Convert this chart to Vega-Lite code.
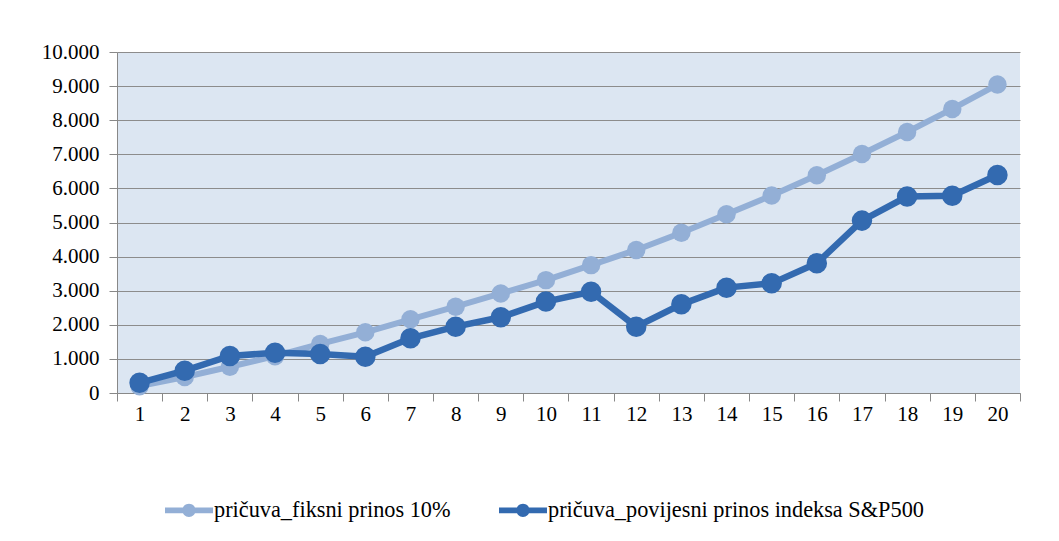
{
  "$schema": "https://vega.github.io/schema/vega-lite/v6.json",
  "autosize": "none",
  "width": 903,
  "height": 341,
  "padding": {"left": 117, "top": 52, "right": 39, "bottom": 148},
  "background": "white",
  "config": {
    "font": "Liberation Serif",
    "view": {"fill": "#DCE6F2", "stroke": null},
    "axis": {"labelFont": "Liberation Serif", "labelFontSize": 21, "labelColor": "#000000", "domainColor": "#888888", "tickColor": "#888888", "tickSize": 8, "title": null},
    "legend": {"labelFont": "Liberation Serif"}
  },
  "data": {"values": [
    {"t": 1, "s": "pričuva_fiksni prinos 10%", "v": 200},
    {"t": 2, "s": "pričuva_fiksni prinos 10%", "v": 470},
    {"t": 3, "s": "pričuva_fiksni prinos 10%", "v": 770},
    {"t": 4, "s": "pričuva_fiksni prinos 10%", "v": 1080},
    {"t": 5, "s": "pričuva_fiksni prinos 10%", "v": 1440},
    {"t": 6, "s": "pričuva_fiksni prinos 10%", "v": 1780},
    {"t": 7, "s": "pričuva_fiksni prinos 10%", "v": 2160},
    {"t": 8, "s": "pričuva_fiksni prinos 10%", "v": 2530},
    {"t": 9, "s": "pričuva_fiksni prinos 10%", "v": 2920},
    {"t": 10, "s": "pričuva_fiksni prinos 10%", "v": 3310},
    {"t": 11, "s": "pričuva_fiksni prinos 10%", "v": 3750},
    {"t": 12, "s": "pričuva_fiksni prinos 10%", "v": 4195},
    {"t": 13, "s": "pričuva_fiksni prinos 10%", "v": 4700},
    {"t": 14, "s": "pričuva_fiksni prinos 10%", "v": 5240},
    {"t": 15, "s": "pričuva_fiksni prinos 10%", "v": 5790},
    {"t": 16, "s": "pričuva_fiksni prinos 10%", "v": 6385},
    {"t": 17, "s": "pričuva_fiksni prinos 10%", "v": 7010},
    {"t": 18, "s": "pričuva_fiksni prinos 10%", "v": 7655},
    {"t": 19, "s": "pričuva_fiksni prinos 10%", "v": 8330},
    {"t": 20, "s": "pričuva_fiksni prinos 10%", "v": 9045},
    {"t": 1, "s": "pričuva_povijesni prinos indeksa S&P500", "v": 300},
    {"t": 2, "s": "pričuva_povijesni prinos indeksa S&P500", "v": 655},
    {"t": 3, "s": "pričuva_povijesni prinos indeksa S&P500", "v": 1085},
    {"t": 4, "s": "pričuva_povijesni prinos indeksa S&P500", "v": 1180},
    {"t": 5, "s": "pričuva_povijesni prinos indeksa S&P500", "v": 1145},
    {"t": 6, "s": "pričuva_povijesni prinos indeksa S&P500", "v": 1065},
    {"t": 7, "s": "pričuva_povijesni prinos indeksa S&P500", "v": 1605},
    {"t": 8, "s": "pričuva_povijesni prinos indeksa S&P500", "v": 1945},
    {"t": 9, "s": "pričuva_povijesni prinos indeksa S&P500", "v": 2220},
    {"t": 10, "s": "pričuva_povijesni prinos indeksa S&P500", "v": 2680},
    {"t": 11, "s": "pričuva_povijesni prinos indeksa S&P500", "v": 2970},
    {"t": 12, "s": "pričuva_povijesni prinos indeksa S&P500", "v": 1945},
    {"t": 13, "s": "pričuva_povijesni prinos indeksa S&P500", "v": 2600},
    {"t": 14, "s": "pričuva_povijesni prinos indeksa S&P500", "v": 3090},
    {"t": 15, "s": "pričuva_povijesni prinos indeksa S&P500", "v": 3215},
    {"t": 16, "s": "pričuva_povijesni prinos indeksa S&P500", "v": 3805},
    {"t": 17, "s": "pričuva_povijesni prinos indeksa S&P500", "v": 5055},
    {"t": 18, "s": "pričuva_povijesni prinos indeksa S&P500", "v": 5760},
    {"t": 19, "s": "pričuva_povijesni prinos indeksa S&P500", "v": 5785},
    {"t": 20, "s": "pričuva_povijesni prinos indeksa S&P500", "v": 6395}
  ]},
  "encoding": {
    "x": {"field": "t", "type": "ordinal", "sort": null,
      "scale": {"paddingInner": 0, "paddingOuter": 0},
      "axis": {"labelAngle": 0, "tickBand": "extent", "labelPadding": 2, "grid": false}},
    "y": {"field": "v", "type": "quantitative",
      "scale": {"domain": [0, 10000], "nice": false},
      "axis": {"values": [0,1000,2000,3000,4000,5000,6000,7000,8000,9000,10000], "grid": true, "gridColor": "#8C8C8C", "gridWidth": 1.2, "labelPadding": 10,
        "labelExpr": "replace(format(datum.value, ','), ',', '.')"}},
    "color": {"field": "s", "type": "nominal",
      "scale": {"domain": ["pričuva_fiksni prinos 10%", "pričuva_povijesni prinos indeksa S&P500"], "range": ["#93AFD6", "#336AB0"]},
      "legend": {"orient": "none", "legendX": 48, "legendY": 434, "direction": "horizontal", "title": null,
         "symbolType": "M-1,-0.12 L1,-0.12 L1,0.12 L-1,0.12 Z M0.28,0 A0.28,0.28 0 1,1 -0.28,0 A0.28,0.28 0 1,1 0.28,0 Z",
         "symbolSize": 2304, "symbolStrokeWidth": 0, "labelFontSize": 22.3, "labelColor": "#000000",
         "labelOffset": 1, "columnPadding": 48, "padding": 0, "labelLimit": 500,
         "encode": {"symbols": {"update": {"fill": {"scale": "color", "field": "value"}, "opacity": {"value": 1}, "strokeWidth": {"value": 0}}}}}}
  },
  "layer": [
    {"transform": [{"filter": "datum.s == 'pričuva_fiksni prinos 10%'"}],
     "mark": {"type": "line", "strokeWidth": 6}},
    {"transform": [{"filter": "datum.s == 'pričuva_fiksni prinos 10%'"}],
     "mark": {"type": "point", "filled": true, "opacity": 1, "size": 340, "shape": "circle"}},
    {"transform": [{"filter": "datum.s != 'pričuva_fiksni prinos 10%'"}],
     "mark": {"type": "line", "strokeWidth": 6.5}},
    {"transform": [{"filter": "datum.s != 'pričuva_fiksni prinos 10%'"}],
     "mark": {"type": "point", "filled": true, "opacity": 1, "size": 420, "shape": "circle"}}
  ]
}
